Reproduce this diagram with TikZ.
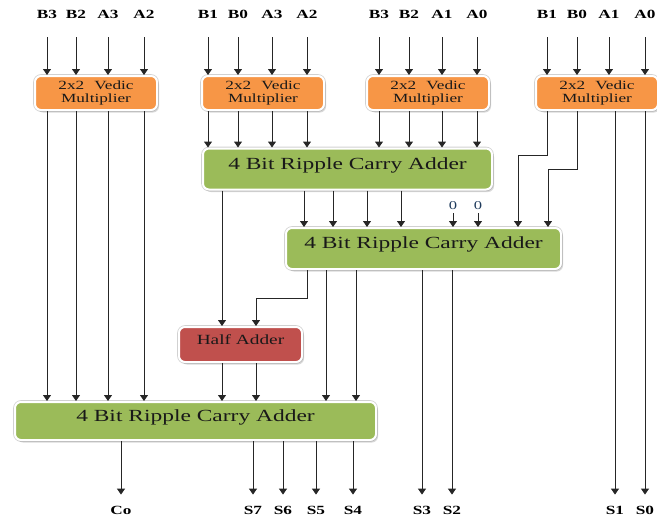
\documentclass[tikz,border=0pt]{standalone}
\usepackage{fontspec}
\setmainfont{Liberation Serif}[FakeStretch=1.38]
\usetikzlibrary{arrows.meta,shadows}

\definecolor{multorange}{HTML}{F79646}
\definecolor{rcagreen}{HTML}{9BBB59}
\definecolor{hared}{HTML}{C0504D}
\definecolor{zeroblue}{HTML}{1F3B5C}

\tikzset{
  blk/.style={rounded corners=6pt, fill=#1, draw=white, line width=2pt,
              preaction={draw=black!18, line width=3.6pt},
              drop shadow={shadow xshift=2pt, shadow yshift=-2.5pt, opacity=0.3},
              inner sep=0pt, text=black!90},
  mult/.style={blk=multorange, minimum width=122pt, minimum height=34pt,
               align=center, font=\fontsize{12.5}{13}\selectfont},
  rca/.style={blk=rcagreen, minimum height=41pt, font=\fontsize{17}{17}\selectfont,
              text height=12pt, text depth=12pt},
  half/.style={blk=hared, minimum width=123pt, minimum height=35pt,
               font=\fontsize{14}{14}\selectfont, text height=10pt, text depth=10pt},
  sig/.style={font=\fontsize{12.5}{12.5}\selectfont\bfseries, inner sep=1pt},
  zero/.style={font=\fontsize{12}{12}\selectfont, text=zeroblue, inner sep=1pt},
  arr/.style={draw=black!85, line width=1pt, -{Triangle[width=8pt,length=6pt]}},
}

\begin{document}
\begin{tikzpicture}[x=1pt, y=-1pt]
\useasboundingbox (0,0) rectangle (657,517);

% ---- Blocks -----------------------------------------------------------------
\node[mult] (m1) at (96,93)  {2x2\hspace{0.8em}Vedic\\Multiplier};
\node[mult] (m2) at (263,93) {2x2\hspace{0.8em}Vedic\\Multiplier};
\node[mult] (m3) at (428,93) {2x2\hspace{0.8em}Vedic\\Multiplier};
\node[mult] (m4) at (597,93) {2x2\hspace{0.8em}Vedic\\Multiplier};

\node[rca, minimum width=289pt] (rca1) at (347.5,169) {4 Bit Ripple Carry Adder};
\node[rca, minimum width=275pt] (rca2) at (423.5,248.5) {4 Bit Ripple Carry Adder};
\node[half] (ha) at (240.5,344.5) {Half Adder};
\node[rca, minimum width=361pt, minimum height=38pt] (rca3) at (195.5,421)
  {4 Bit Ripple Carry Adder};

% ---- Inputs -----------------------------------------------------------------
\foreach \t/\x/\m in {B3/47/m1, B2/76/m1, A3/108/m1, A2/144/m1,
                      B1/208/m2, B0/238/m2, A3/272/m2, A2/307/m2,
                      B3/379/m3, B2/409/m3, A1/442/m3, A0/477/m3,
                      B1/547/m4, B0/577/m4, A1/609/m4, A0/645/m4} {
  \node[sig] (in-\x) at (\x,14) {\t};
  \draw[arr, shorten <=18pt] (in-\x) -- (in-\x |- \m.north);
}

% columns of the inner wires
\foreach \x in {222,304,307,326,333,356,367,401} \coordinate (c\x) at (\x,0);
\coordinate (j1) at (518,155);
\coordinate (j2) at (548,169);
\coordinate (j3) at (256,298);

% ---- Multiplier outputs -----------------------------------------------------
\foreach \x in {47,76,108,144}
  \draw[arr] (m1.south -| in-\x) -- (rca3.north -| in-\x);
\foreach \x in {208,238,272,307}
  \draw[arr] (m2.south -| in-\x) -- (rca1.north -| in-\x);
\foreach \x in {379,409,442,477}
  \draw[arr] (m3.south -| in-\x) -- (rca1.north -| in-\x);
\draw[arr] (m4.south -| in-547) |- (j1) -- (j1 |- rca2.north);
\draw[arr] (m4.south -| in-577) |- (j2) -- (j2 |- rca2.north);

% ---- First adder to second adder and half adder -----------------------------
\draw[arr] (rca1.south -| c222) -- (ha.north -| c222);
\foreach \x in {304,333,367,401}
  \draw[arr] (rca1.south -| c\x) -- (rca2.north -| c\x);
\node[zero] (z1) at (453,206) {0};
\node[zero] (z2) at (478,206) {0};
\draw[arr, shorten <=2pt] (z1) -- (z1 |- rca2.north);
\draw[arr, shorten <=2pt] (z2) -- (z2 |- rca2.north);

% ---- Second adder outputs ---------------------------------------------------
\draw[arr] (rca2.south -| c307) |- (j3) -- (j3 |- ha.north);
\foreach \x in {326,356}
  \draw[arr] (rca2.south -| c\x) -- (rca3.north -| c\x);

% ---- Half adder outputs -----------------------------------------------------
\draw[arr] (ha.south -| c222) -- (rca3.north -| c222);
\draw[arr] (ha.south -| j3) -- (rca3.north -| j3);

% ---- Product bits -----------------------------------------------------------
\foreach \n/\t/\x/\b in {co/Co/121/rca3, s7/S7/253/rca3, s6/S6/283/rca3,
                         s5/S5/316/rca3, s4/S4/353/rca3, s3/S3/422/rca2,
                         s2/S2/452/rca2, s1/S1/615/m4, s0/S0/645/m4} {
  \node[sig] (\n) at (\x,510) {\t};
  \draw[arr, shorten >=10pt] (\b.south -| \n) -- (\n);
}

\end{tikzpicture}
\end{document}
